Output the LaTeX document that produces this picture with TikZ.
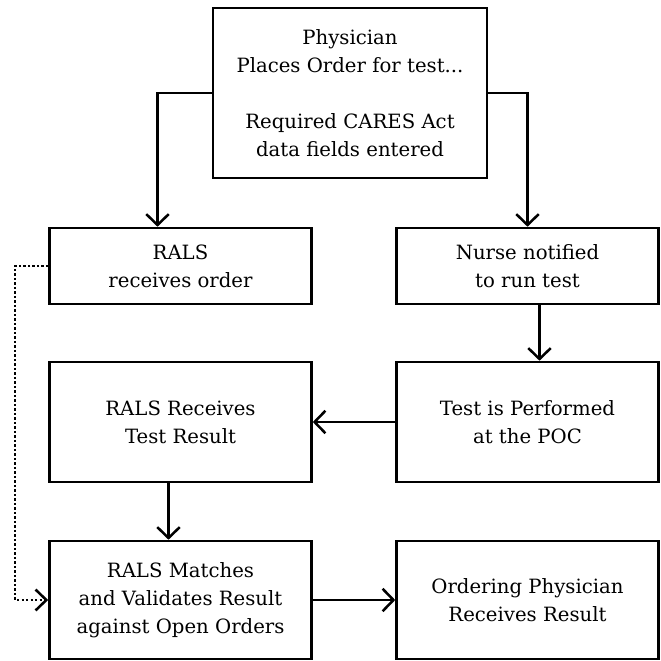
\documentclass[tikz,border=0pt]{standalone}
\usepackage{fontspec}
\setmainfont{DejaVu Serif}
\usetikzlibrary{arrows.meta,calc}

\begin{document}
\begin{tikzpicture}[x=0.025cm, y=-0.025cm,
    box/.style={draw, line width=1.8pt, align=center, inner sep=0pt,
      minimum width=6.55cm, font=\fontsize{14}{20}\selectfont},
    arr/.style={line width=1.8pt, -{Straight Barb[length=2.7mm,width=5.6mm,line width=1.8pt]}},
    dots/.style={line width=1.8pt, dash pattern=on 1.6pt off 1.6pt,
      -{Straight Barb[length=2.7mm,width=5.2mm,line width=1.8pt]}}]
    \useasboundingbox (0,0) rectangle (660,661);

    % Draw boxes
    \node[box, minimum width=6.85cm, minimum height=4.25cm] (order) at (350,93)
      {Physician\\Places Order for test...\\[20pt]Required CARES Act\\data fields entered};
    \node[box, minimum height=1.9cm] (rals) at (180.5,266) {RALS\\receives order};
    \node[box, minimum height=1.9cm] (nurse) at (527.5,266) {Nurse notified\\to run test};
    \node[box, minimum height=3cm] (recv) at (180.5,422) {RALS Receives\\Test Result};
    \node[box, minimum height=3cm] (test) at (527.5,422) {Test is Performed\\at the POC};
    \node[box, minimum height=2.95cm] (match) at (180.5,600)
      {RALS Matches\\and Validates Result\\against Open Orders};
    \node[box, minimum height=2.95cm] (result) at (527.5,600)
      {Ordering Physician\\Receives Result};

    % Draw flow arrows
    \draw[arr] (order.west) -| ($(rals.north)+(-23,0)$);
    \draw[arr] (order.east) -| (nurse.north);
    \draw[arr] ($(nurse.south)+(12,0)$) -- ($(test.north)+(12,0)$);
    \draw[arr] (test.west) -- (recv.east);
    \draw[arr] ($(recv.south)+(-12,0)$) -- ($(match.north)+(-12,0)$);
    \draw[arr] (match.east) -- (result.west);

    % Draw dotted link
    \draw[dots] (rals.west) -- ++(-33,0) |- (match.west);
  \end{tikzpicture}
\end{document}
